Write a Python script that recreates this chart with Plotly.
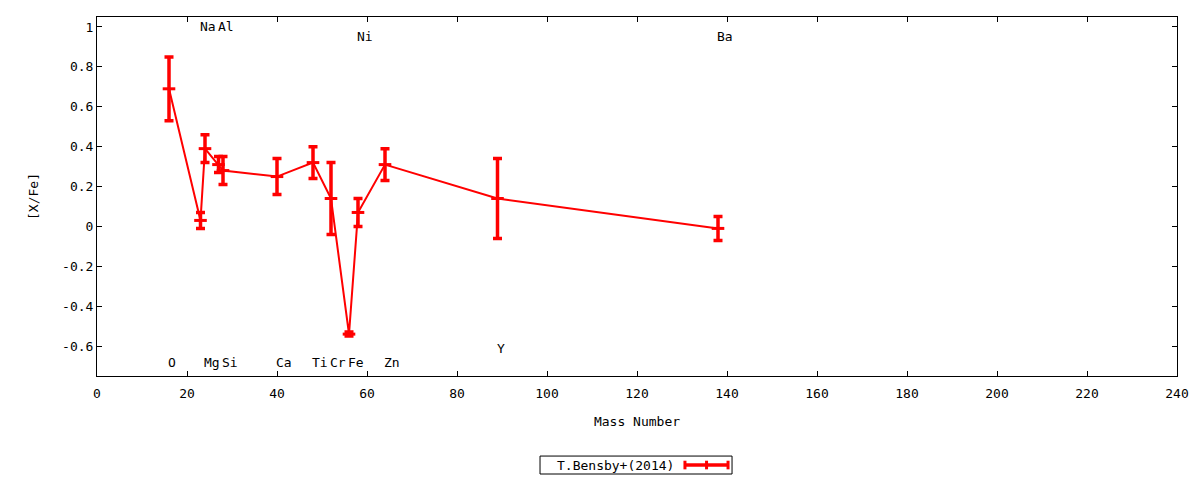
import plotly.graph_objects as go

# element abundances, T.Bensby+(2014)
elements = ["O", "Na", "Mg", "Al", "Si", "Ca", "Ti", "Cr", "Fe", "Ni", "Zn", "Y", "Ba"]
mass = [16, 23, 24, 27, 28, 40, 48, 52, 56, 58, 64, 89, 138]
x_fe = [0.69, 0.03, 0.39, 0.31, 0.28, 0.25, 0.32, 0.14, -0.54, 0.07, 0.31, 0.14, -0.01]
err = [0.16, 0.04, 0.07, 0.04, 0.07, 0.09, 0.08, 0.18, 0.01, 0.07, 0.08, 0.20, 0.06]

# where the element names sit
label_y = [-0.68, 1.0, -0.68, 1.0, -0.68, -0.68, -0.68, -0.68, -0.68, 0.95, -0.68, -0.61, 0.95]

xticks = list(range(0, 241, 20))
yticks = [-0.6, -0.4, -0.2, 0, 0.2, 0.4, 0.6, 0.8, 1]
ytext = ["-0.6", "-0.4", "-0.2", "0", "0.2", "0.4", "0.6", "0.8", "1"]

series_name = "T.Bensby+(2014)"

font = dict(family="DejaVu Sans Mono", size=13, color="black")
red = "red"

fig = go.Figure()

fig.add_trace(go.Scatter(
    x=mass, y=x_fe,
    mode="lines+markers",
    name=series_name,
    showlegend=False,
    line=dict(color=red, width=2),
    marker=dict(symbol="line-ew", size=9, color=red,
                line=dict(color=red, width=3)),
    error_y=dict(type="data", array=err, color=red, thickness=3.5, width=4.5),
))

for el, m, ly in zip(elements, mass, label_y):
    fig.add_annotation(x=m, y=ly, text=el, showarrow=False,
                       xanchor="left", yanchor="middle", xshift=-3,
                       font=font)

# gnuplot style key below the plot: text first, then the errorbar sample
ky = -0.248
fig.add_shape(type="rect", xref="paper", yref="paper",
              x0=0.4102, x1=0.5880, y0=-0.273, y1=-0.223,
              line=dict(color="black", width=1), fillcolor="white")
fig.add_annotation(xref="paper", yref="paper", x=0.424, y=ky, text=series_name,
                   showarrow=False, xanchor="left", yanchor="middle", font=font)
fig.add_shape(type="line", xref="paper", yref="paper",
              x0=0.5444, x1=0.5843, y0=ky, y1=ky, line=dict(color=red, width=3.5))
for kx in (0.5444, 0.5644, 0.5843):
    fig.add_shape(type="line", xref="paper", yref="paper",
                  x0=kx, x1=kx, y0=ky - 0.012, y1=ky + 0.012,
                  line=dict(color=red, width=3))

axis = dict(showline=True, linecolor="black", linewidth=1, mirror="allticks",
            ticks="inside", ticklen=5, tickcolor="black", showgrid=False,
            zeroline=False, tickfont=font)

fig.update_xaxes(range=[0, 240], tickvals=xticks, ticktext=[str(t) for t in xticks],
                 ticklabelstandoff=5,
                 title=dict(text="Mass Number", font=font, standoff=17), **axis)
fig.update_yaxes(range=[-0.75, 1.05], tickvals=yticks, ticktext=ytext,
                 title=dict(text="[X/Fe]", font=font, standoff=20), **axis)

# page body adds an 8px offset, margins allow for it
fig.update_layout(
    width=1200, height=500,
    margin=dict(l=89, r=31, t=9, b=132),
    plot_bgcolor="white", paper_bgcolor="white",
    font=font,
    showlegend=False,
)

fig.write_html("out.html")
